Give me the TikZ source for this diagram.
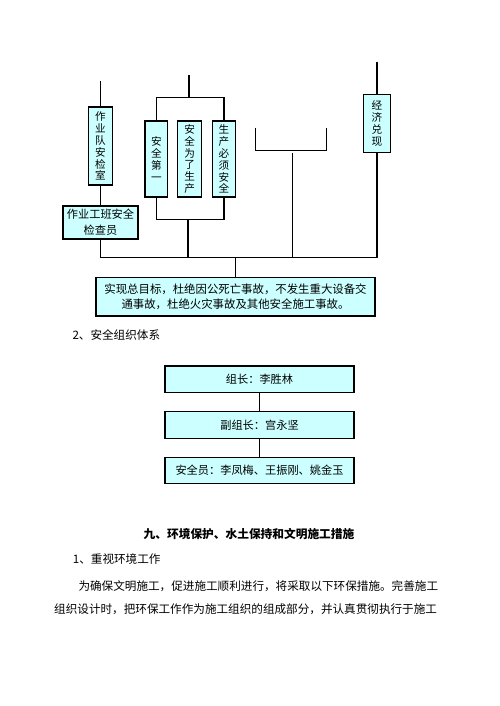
\documentclass[tikz,border=0pt]{standalone}
\usepackage{fontspec}
\newfontfamily\cjk{Noto Sans CJK SC}
\definecolor{boxfill}{HTML}{CCFFFF}
\begin{document}
\begin{tikzpicture}[x=1pt,y=-1pt,
  every node/.style={font=\cjk\fontsize{11.2}{12.6}\selectfont},
  box/.style={draw=black,line width=1.4pt,fill=boxfill,inner sep=0pt,align=center},
  vbox/.style={box,font=\cjk\fontsize{10.6}{11.9}\selectfont},
  conn/.style={line width=1.1pt,draw=black},
  plain/.style={inner sep=0pt,anchor=west,font=\cjk\fontsize{11.6}{13}\selectfont}]
\useasboundingbox[fill=white] (0,0) rectangle (500,706);

% upper chart boxes
\node[vbox,minimum width=24pt,minimum height=78pt] (dq) at (100.5,146) {作\\业\\队\\安\\检\\室};
\node[box,minimum width=75pt,minimum height=33pt,font=\cjk\fontsize{11.2}{16}\selectfont] (bz) at (100.5,222.3) {作业工班安全\\检查员};
\node[vbox,minimum width=22.7pt,minimum height=76pt] (a1) at (156.3,159) {安\\全\\第\\一};
\node[vbox,minimum width=24pt,minimum height=76pt] (a2) at (189.7,159) {安\\全\\为\\了\\生\\产};
\node[vbox,minimum width=23.4pt,minimum height=76pt] (a3) at (224,159) {生\\产\\必\\须\\安\\全};
\node[vbox,minimum width=27.3pt,minimum height=58.4pt] (jj) at (377,123.5) {经\\济\\兑\\现};
\node[box,minimum width=279pt,minimum height=38.3pt,font=\cjk\fontsize{11.4}{16.3}\selectfont] (goal) at (235.5,296.8)
  {\raisebox{-3pt}{\shortstack{实现总目标，杜绝因公死亡事故，不发生重大设备交\\[1pt]通事故，杜绝火灾事故及其他安全施工事故。}}};

% bus and free ends
\coordinate (t1) at (100.5,81);
\coordinate (t2) at (189,75);
\coordinate (t3) at (377,61.7);
\coordinate (mtop) at (189,97.3);
\coordinate (mbot) at (188,219.3);
\coordinate (bl) at (100.5,257.7);
\coordinate (br) at (377,257.7);
\coordinate (bc) at (235.5,257.7);

\draw[conn] (t1) -- (dq.north);
\draw[conn] (dq.south) -- (bz.north);
\draw[conn] (bz.south) -- (bl);
\draw[conn] (t2) -- (mtop);
\draw[conn] (a1.north) |- (mtop) -| (a3.north);
\draw[conn] (a1.south) |- (mbot) -| (a3.south);
\draw[conn] (mbot) -- (mbot |- bl);
\draw[conn] (255.7,127.7) -- (255.7,150.7) -- (326.7,150.7) -- (326.7,127.7);
\draw[conn] (292.7,153.3) -- (292.7,257.7);
\draw[conn] (t3) -- (jj.north);
\draw[conn] (jj.south) -- (br);
\draw[conn] (bl) -- (br);
\draw[conn] (bc) -- (goal.north);

% section 2 text
\node[plain] (s2) at (72.3,335.5) {2、安全组织体系};

% organisation boxes
\node[box,minimum width=189pt,minimum height=26.3pt] (g1) at (259.5,379.2) {\raisebox{-3pt}{组长：李胜林}};
\node[box,minimum width=189pt,minimum height=26.6pt] (g2) at (259.5,425) {\raisebox{-3pt}{副组长：宫永坚}};
\node[box,minimum width=189pt,minimum height=26pt] (g3) at (259.5,470.3) {\raisebox{-3pt}{安全员：李凤梅、王振刚、姚金玉}};
\draw[line width=0.8pt] (g1.south) -- (g2.north);
\draw[line width=0.8pt] (g2.south) -- (g3.north);

% lower text
\node[plain,anchor=center,font=\cjk\bfseries\fontsize{11.7}{13}\selectfont] (title) at (249,534) {九、环境保护、水土保持和文明施工措施};
\node[plain] (s1) at (72.7,559.5) {1、重视环境工作};
\node[plain] (p1) at (78.3,585.8) {为确保文明施工，促进施工顺利进行，将采取以下环保措施。完善施工};
\node[plain] (p2) at (54,609.4) {组织设计时，把环保工作作为施工组织的组成部分，并认真贯彻执行于施工};
\end{tikzpicture}
\end{document}
